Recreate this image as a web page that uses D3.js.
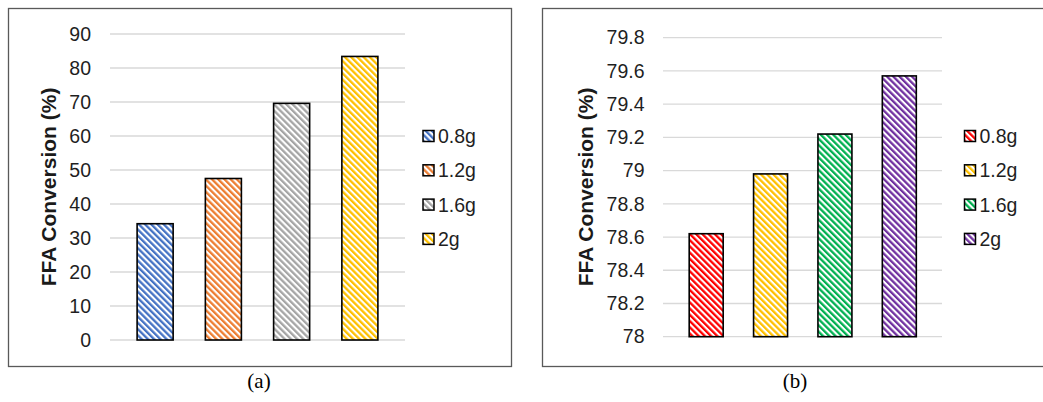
<!DOCTYPE html>
<html>
<head>
<meta charset="utf-8">
<script src="https://cdn.jsdelivr.net/npm/d3@7"></script>
<style>
  html, body { margin: 0; padding: 0; background: #fff; }
  svg { display: block; }
</style>
</head>
<body>
<svg id="chart" width="1043" height="402"></svg>
<script>
// Catalyst loadings (legend / category names)
const categories = ["0.8g", "1.2g", "1.6g", "2g"];

// Panel (a): FFA conversion, %
const valuesA = [34.2, 47.5, 69.6, 83.4];
const ticksA = [0, 10, 20, 30, 40, 50, 60, 70, 80, 90];
const coloursA = ["#4472C4", "#ED7D31", "#A5A5A5", "#FFC000"];

// Panel (b): FFA conversion, %
const valuesB = [78.62, 78.98, 79.22, 79.57];
const ticksB = [78, 78.2, 78.4, 78.6, 78.8, 79, 79.2, 79.4, 79.6, 79.8];
const coloursB = ["#FF0000", "#FFC000", "#00B050", "#7030A0"];

const axisTitle = "FFA Conversion (%)";
const captions = ["(a)", "(b)"];

const svg = d3.select("#chart");
svg.append("rect").attr("width", 1043).attr("height", 402).attr("fill", "#fff");
const defs = svg.append("defs");

// Diagonal stripe fill ("\" direction), one per colour
function stripe(id, colour) {
  const w = 4.4;
  const p = defs.append("pattern")
    .attr("id", id)
    .attr("patternUnits", "userSpaceOnUse")
    .attr("width", w).attr("height", 10)
    .attr("patternTransform", "rotate(-45)");
  p.append("rect").attr("width", w).attr("height", 10).attr("fill", "#fff");
  p.append("rect").attr("width", 2.3).attr("height", 10).attr("fill", colour);
  return `url(#${id})`;
}

function drawPanel(cfg) {
  const g = svg.append("g");

  // outer frame
  g.append("rect")
    .attr("x", cfg.frame[0] + 0.5).attr("y", cfg.frame[1] + 0.5)
    .attr("width", cfg.frame[2]).attr("height", cfg.frame[3])
    .attr("fill", "none").attr("stroke", "#595959").attr("stroke-width", 1.3);

  const y = d3.scaleLinear().domain(cfg.domain).range(cfg.yRange);
  const x = d3.scaleBand().domain(categories).range(cfg.xRange)
    .paddingInner(0.472).paddingOuter(0.236);

  // gridlines
  g.append("g").selectAll("line").data(cfg.ticks).join("line")
    .attr("x1", cfg.grid[0]).attr("x2", cfg.grid[1])
    .attr("y1", d => y(d)).attr("y2", d => y(d))
    .attr("stroke", "#D9D9D9").attr("stroke-width", 1.3);

  // value axis labels
  const axis = d3.axisLeft(y).tickValues(cfg.ticks).tickSize(0).tickPadding(0)
    .tickFormat(d3.format(""));
  const ag = g.append("g").attr("transform", `translate(${cfg.tickX},0)`).call(axis);
  ag.select(".domain").remove();
  ag.selectAll("text")
    .attr("font-family", "Liberation Sans, Arial, sans-serif")
    .attr("font-size", 19.5).attr("fill", "#1f1f1f");

  // bars
  const fills = cfg.colours.map((c, i) => stripe(`${cfg.id}-p${i}`, c));
  g.append("g").selectAll("rect").data(cfg.values).join("rect")
    .attr("x", (d, i) => x(categories[i]))
    .attr("width", x.bandwidth())
    .attr("y", d => y(d))
    .attr("height", d => y(cfg.domain[0]) - y(d))
    .attr("fill", (d, i) => fills[i])
    .attr("stroke", "#000").attr("stroke-width", 1.6);

  // axis title
  g.append("text")
    .attr("transform", `translate(${cfg.titleX},187) rotate(-90)`)
    .attr("text-anchor", "middle").attr("dominant-baseline", "central")
    .attr("font-family", "Liberation Sans, Arial, sans-serif")
    .attr("font-weight", "bold").attr("font-size", 21).attr("fill", "#1a1a1a")
    .text(axisTitle);

  // legend
  const leg = g.append("g").selectAll("g").data(categories).join("g")
    .attr("transform", (d, i) => `translate(${cfg.legendX},${136 + i * 34.3})`);
  leg.append("rect")
    .attr("x", 0).attr("y", -5.5).attr("width", 11).attr("height", 11)
    .attr("fill", (d, i) => fills[i])
    .attr("stroke", "#000").attr("stroke-width", 1.5);
  leg.append("text")
    .attr("x", 15).attr("y", 0).attr("dominant-baseline", "central")
    .attr("font-family", "Liberation Sans, Arial, sans-serif")
    .attr("font-size", 19.5).attr("fill", "#1f1f1f")
    .text(d => d);

  // caption below the frame
  svg.append("text")
    .attr("x", cfg.captionX).attr("y", 388)
    .attr("text-anchor", "middle")
    .attr("font-family", "Liberation Serif, Times New Roman, serif")
    .attr("font-size", 21).attr("fill", "#000")
    .text(cfg.caption);
}

drawPanel({
  id: "a", frame: [8, 8, 503, 358],
  domain: [0, 90], yRange: [340, 34], ticks: ticksA, values: valuesA, colours: coloursA,
  xRange: [121, 394], grid: [110, 405], tickX: 91, titleX: 48, legendX: 423,
  captionX: 259, caption: captions[0]
});

drawPanel({
  id: "b", frame: [542, 8, 520, 358],
  domain: [78, 79.8], yRange: [336.7, 37.7], ticks: ticksB, values: valuesB, colours: coloursB,
  xRange: [674, 931.5], grid: [663, 942], tickX: 644.5, titleX: 585, legendX: 964.5,
  captionX: 795, caption: captions[1]
});
</script>
</body>
</html>
